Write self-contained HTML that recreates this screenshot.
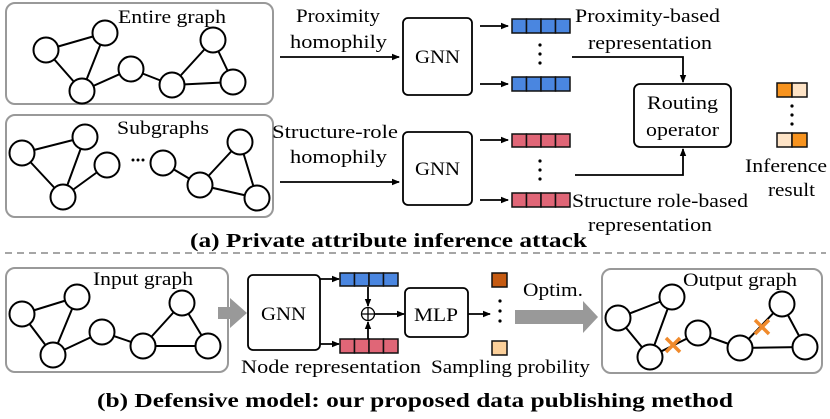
<!DOCTYPE html>
<html><head><meta charset="utf-8"><style>
html,body{margin:0;padding:0;background:#fff;}
svg{display:block;}
text{font-family:"Liberation Serif","Times New Roman",serif;fill:#000;}
</style></head><body>
<svg width="830" height="419" viewBox="0 0 830 419" xmlns="http://www.w3.org/2000/svg">
<defs>
<marker id="ah" markerWidth="8" markerHeight="8" refX="7" refY="4" orient="auto" markerUnits="userSpaceOnUse">
<path d="M0,0.8 L8,4 L0,7.2z" fill="#000"/></marker>
</defs>
<g stroke="#999" stroke-width="2" fill="none">
<rect x="6" y="3" width="267" height="101" rx="9"/>
<rect x="6" y="115" width="267" height="102" rx="9"/>
<rect x="6" y="268" width="222" height="104" rx="9"/>
<rect x="602" y="269" width="220" height="104" rx="9"/>
</g>
<line x1="5" y1="253" x2="826" y2="253" stroke="#888" stroke-width="1.5" stroke-dasharray="7,5"/>
<g stroke="#000" stroke-width="2">
<path d="M46,50L105,33M46,50L82,91M105,33L82,91M82,91L131,69M131,69L172,85M172,85L213,40M172,85L233,82M213,40L233,82"/>
<path d="M22,153L85,137M22,153L63,197M85,137L63,197M63,197L107,165M163,163L200,185M200,185L240,142M200,185L257,198M240,142L257,198"/>
<path d="M22,314L77,297M22,314L53,355M77,297L53,355M53,355L102,332M102,332L143,346M143,346L182,303M143,346L208,346M182,303L208,346"/>
<path d="M618,318L672,297M618,318L650,357M672,297L650,357M650,357L698,333M698,333L740,348M740,348L782,304M740,348L805,347M782,304L805,347"/>
</g>
<g fill="#fff" stroke="#000" stroke-width="2">
<circle cx="46" cy="50" r="12.5"/><circle cx="105" cy="33" r="12.5"/><circle cx="82" cy="91" r="12.5"/><circle cx="131" cy="69" r="12.5"/><circle cx="172" cy="85" r="12.5"/><circle cx="213" cy="40" r="12.5"/><circle cx="233" cy="82" r="12.5"/>
<circle cx="22" cy="153" r="12.5"/><circle cx="85" cy="137" r="12.5"/><circle cx="63" cy="197" r="12.5"/><circle cx="107" cy="165" r="12.5"/><circle cx="163" cy="163" r="12.5"/><circle cx="200" cy="185" r="12.5"/><circle cx="240" cy="142" r="12.5"/><circle cx="257" cy="198" r="12.5"/>
<circle cx="22" cy="314" r="12.5"/><circle cx="77" cy="297" r="12.5"/><circle cx="53" cy="355" r="12.5"/><circle cx="102" cy="332" r="12.5"/><circle cx="143" cy="346" r="12.5"/><circle cx="182" cy="303" r="12.5"/><circle cx="208" cy="346" r="12.5"/>
<circle cx="618" cy="318" r="12.5"/><circle cx="672" cy="297" r="12.5"/><circle cx="650" cy="357" r="12.5"/><circle cx="698" cy="333" r="12.5"/><circle cx="740" cy="348" r="12.5"/><circle cx="782" cy="304" r="12.5"/><circle cx="805" cy="347" r="12.5"/>
</g>
<g fill="#000"><circle cx="133" cy="160" r="1.5"/><circle cx="138" cy="160" r="1.5"/><circle cx="143" cy="160" r="1.5"/></g>
<g stroke="#f08a2c" stroke-width="3.5">
<path d="M666,338L680,352M680,338L666,352"/>
<path d="M755,320L769,334M769,320L755,334"/>
</g>
<g font-size="19" lengthAdjust="spacingAndGlyphs">
<text x="118" y="23" textLength="108" lengthAdjust="spacingAndGlyphs">Entire graph</text>
<text x="117" y="134" textLength="92" lengthAdjust="spacingAndGlyphs">Subgraphs</text>
<text x="93" y="285" textLength="100" lengthAdjust="spacingAndGlyphs">Input graph</text>
<text x="683" y="286" textLength="114" lengthAdjust="spacingAndGlyphs">Output graph</text>
<text x="296" y="22" textLength="84" lengthAdjust="spacingAndGlyphs">Proximity</text>
<text x="290" y="48" textLength="97" lengthAdjust="spacingAndGlyphs">homophily</text>
<text x="272" y="138" textLength="126" lengthAdjust="spacingAndGlyphs">Structure-role</text>
<text x="290" y="163" textLength="97" lengthAdjust="spacingAndGlyphs">homophily</text>
</g>
<g stroke="#000" stroke-width="1.8" fill="none">
<line x1="280" y1="57" x2="399" y2="57" marker-end="url(#ah)"/>
<line x1="280" y1="182" x2="399" y2="182" marker-end="url(#ah)"/>
<rect x="403" y="18" width="69" height="77" rx="5"/>
<rect x="403" y="132" width="69" height="73" rx="5"/>
<line x1="480" y1="26" x2="508" y2="26" marker-end="url(#ah)"/>
<line x1="480" y1="84" x2="508" y2="84" marker-end="url(#ah)"/>
<line x1="480" y1="140" x2="508" y2="140" marker-end="url(#ah)"/>
<line x1="480" y1="200" x2="508" y2="200" marker-end="url(#ah)"/>
<polyline points="572,57 683,57 683,82" marker-end="url(#ah)"/>
<polyline points="575,175 683,175 683,149" marker-end="url(#ah)"/>
<rect x="634" y="84" width="97" height="63" rx="6"/>
</g>
<text x="415" y="63" font-size="19" textLength="45" lengthAdjust="spacingAndGlyphs">GNN</text>
<text x="415" y="175" font-size="19" textLength="45" lengthAdjust="spacingAndGlyphs">GNN</text>
<text x="647" y="109" font-size="19" textLength="71" lengthAdjust="spacingAndGlyphs">Routing</text>
<text x="646" y="136" font-size="19" textLength="73" lengthAdjust="spacingAndGlyphs">operator</text>
<g stroke="#111" stroke-width="1.5">
<g fill="#4a86e0"><rect x="512" y="19" width="14.5" height="14"/><rect x="526.5" y="19" width="14.5" height="14"/><rect x="541" y="19" width="14.5" height="14"/><rect x="555.5" y="19" width="14.5" height="14"/>
<rect x="512" y="77" width="14.5" height="14"/><rect x="526.5" y="77" width="14.5" height="14"/><rect x="541" y="77" width="14.5" height="14"/><rect x="555.5" y="77" width="14.5" height="14"/>
<rect x="340" y="273" width="14.5" height="13"/><rect x="354.5" y="273" width="14.5" height="13"/><rect x="369" y="273" width="14.5" height="13"/><rect x="383.5" y="273" width="14.5" height="13"/></g>
<g fill="#e06677"><rect x="512" y="134" width="14.5" height="13"/><rect x="526.5" y="134" width="14.5" height="13"/><rect x="541" y="134" width="14.5" height="13"/><rect x="555.5" y="134" width="14.5" height="13"/>
<rect x="512" y="193" width="14.5" height="14"/><rect x="526.5" y="193" width="14.5" height="14"/><rect x="541" y="193" width="14.5" height="14"/><rect x="555.5" y="193" width="14.5" height="14"/>
<rect x="340" y="339" width="14.5" height="14"/><rect x="354.5" y="339" width="14.5" height="14"/><rect x="369" y="339" width="14.5" height="14"/><rect x="383.5" y="339" width="14.5" height="14"/></g>
<rect x="777" y="83" width="15" height="14" fill="#f7931e"/><rect x="792" y="83" width="15" height="14" fill="#fde3c6"/>
<rect x="777" y="133" width="15" height="14" fill="#fde3c6"/><rect x="792" y="133" width="15" height="14" fill="#f7931e"/>
<rect x="492" y="273" width="15" height="14" fill="#c55a11"/>
<rect x="492" y="341" width="15" height="14" fill="#fcd09a"/>
</g>
<g fill="#000">
<circle cx="540" cy="45" r="1.6"/><circle cx="540" cy="54" r="1.6"/><circle cx="540" cy="63" r="1.6"/>
<circle cx="540" cy="161" r="1.6"/><circle cx="540" cy="170" r="1.6"/><circle cx="540" cy="179" r="1.6"/>
<circle cx="792" cy="106" r="1.6"/><circle cx="792" cy="115" r="1.6"/><circle cx="792" cy="124" r="1.6"/>
<circle cx="500" cy="301" r="1.6"/><circle cx="500" cy="311" r="1.6"/><circle cx="500" cy="321" r="1.6"/>
</g>
<text x="575" y="22" font-size="19" textLength="145" lengthAdjust="spacingAndGlyphs">Proximity-based</text>
<text x="588" y="49" font-size="19" textLength="124" lengthAdjust="spacingAndGlyphs">representation</text>
<text x="572" y="207" font-size="19" textLength="176" lengthAdjust="spacingAndGlyphs">Structure role-based</text>
<text x="588" y="231" font-size="19" textLength="124" lengthAdjust="spacingAndGlyphs">representation</text>
<text x="745" y="172" font-size="19" textLength="82" lengthAdjust="spacingAndGlyphs">Inference</text>
<text x="768" y="196" font-size="19" textLength="47" lengthAdjust="spacingAndGlyphs">result</text>
<text x="190" y="247" font-size="20" font-weight="bold" textLength="397" lengthAdjust="spacingAndGlyphs">(a) Private attribute inference attack</text>
<path d="M218,307 H230 V298 L247,313 L230,328 V319 H218z" fill="#999"/>
<path d="M515,310 H583 V301 L598,317 L583,333 V324 H515z" fill="#999"/>
<g stroke="#000" stroke-width="1.8" fill="none">
<rect x="248" y="275" width="72" height="75" rx="5"/>
<rect x="405" y="288" width="63" height="49" rx="5"/>
<line x1="320" y1="279" x2="339" y2="279" marker-end="url(#ah)"/>
<line x1="320" y1="344" x2="339" y2="344" marker-end="url(#ah)"/>
<line x1="368" y1="287" x2="368" y2="306" marker-end="url(#ah)"/>
<line x1="368" y1="339" x2="368" y2="322" marker-end="url(#ah)"/>
<line x1="375" y1="314" x2="404" y2="314" marker-end="url(#ah)"/>
<line x1="468" y1="314" x2="490" y2="314" marker-end="url(#ah)"/>
<circle cx="368" cy="314" r="6.5" stroke-width="1.3"/>
<path d="M361.5,314H374.5M368,307.5V320.5" stroke-width="1.3"/>
</g>
<text x="261" y="320" font-size="19" textLength="45" lengthAdjust="spacingAndGlyphs">GNN</text>
<text x="414" y="321" font-size="19" textLength="44" lengthAdjust="spacingAndGlyphs">MLP</text>
<text x="523" y="296" font-size="19" textLength="60" lengthAdjust="spacingAndGlyphs">Optim.</text>
<text x="241" y="373" font-size="19" textLength="180" lengthAdjust="spacingAndGlyphs">Node representation</text>
<text x="431" y="373" font-size="19" textLength="159" lengthAdjust="spacingAndGlyphs">Sampling probility</text>
<text x="97" y="407" font-size="20" font-weight="bold" textLength="636" lengthAdjust="spacingAndGlyphs">(b) Defensive model: our proposed data publishing method</text>
</svg>
</body></html>
